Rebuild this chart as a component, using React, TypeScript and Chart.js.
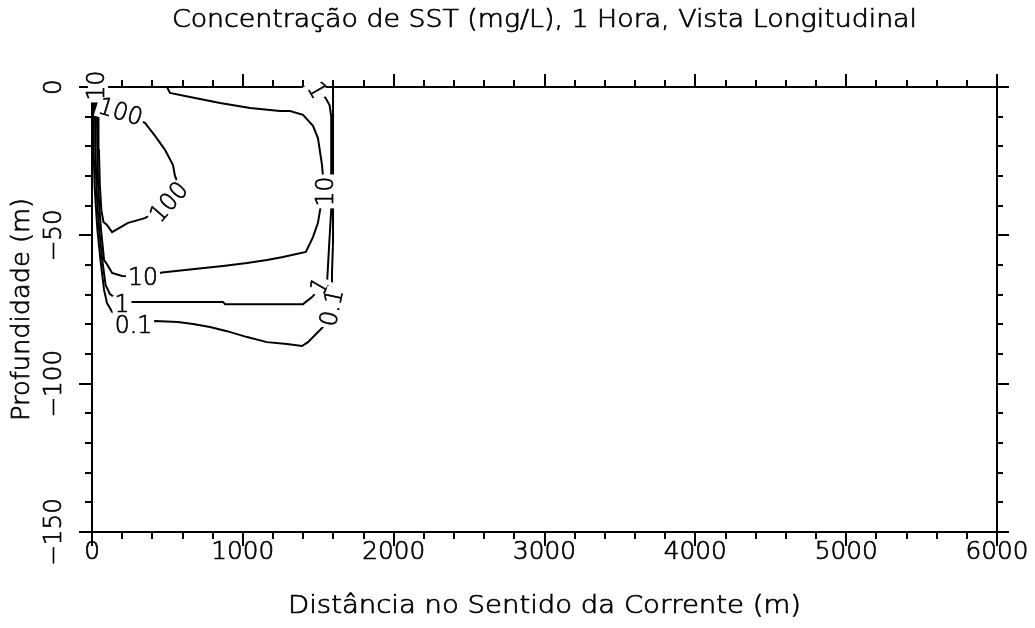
import React, { useEffect, useRef } from "react";
import { Chart, registerables } from "chart.js";

Chart.register(...registerables);

// ---------- axes ----------
const xMin = 0;
const xMax = 6000;
const yMin = -150;
const yMax = 0;
const xMajorTicks = [0, 1000, 2000, 3000, 4000, 5000, 6000];
const xTickLabels = ["0", "1000", "2000", "3000", "4000", "5000", "6000"];
const xMinorStep = 200;
const yMajorTicks = [0, -50, -100, -150];
const yTickLabels = ["0", "\u221250", "\u2212100", "\u2212150"];
const yMinorStep = 10;

const titleText = "Concentração de SST (mg/L), 1 Hora, Vista Longitudinal";
const xTitleText = "Distância no Sentido da Corrente (m)";
const yTitleText = "Profundidade (m)";

// ---------- contours (x in m, y = depth in m) ----------
const c100X = [43, 186, 351, 418, 484, 537, 550, 564, 517, 351, 239, 133, 99, 76, 62, 52, 46, 43];
const c100Y = [-8.8, -8.8, -12.1, -16.5, -21.2, -26.3, -30.0, -31.6, -39.1, -44.2, -45.8, -48.9, -46.5, -45.5, -41.5, -33, -21.2, -8.8];

const c10X = [40, 33, 33, 36, 40, 50, 60, 80, 106, 133, 199, 338, 464, 696, 869, 1028, 1160, 1266, 1418, 1465, 1498, 1512, 1535, 1532, 1525, 1498, 1465, 1399, 1313, 1246, 1048, 849, 650, 517, 497];
const c10Y = [0, -3, -9.4, -21.2, -33, -41.5, -48.2, -58.3, -60.3, -62.7, -63.7, -64, -62.5, -61.3, -60.3, -59.3, -58.3, -57.3, -55.6, -50.6, -45.8, -41.5, -35.2, -30.7, -26.3, -17.2, -13.1, -9.4, -8.1, -8.1, -7.1, -5.4, -3.4, -2.0, 0];

const c1X = [20, 22, 24, 29, 38, 48, 68, 90, 119, 199, 265, 869, 882, 1399, 1459, 1518, 1558, 1565, 1573, 1586, 1586, 1575, 1545, 1485, 1412];
const c1Y = [0, -9.4, -21.2, -33, -41.5, -48.2, -58.3, -66.7, -69.8, -72.8, -72.5, -72.5, -73.2, -73.2, -70.8, -67.4, -66.1, -60, -52.6, -41.5, -10, -6.1, -3.4, -1.3, 0];

const c01X = [8, 10, 12, 17, 27, 36, 56, 80, 99, 133, 275, 418, 570, 670, 782, 895, 1028, 1160, 1293, 1392, 1432, 1492, 1532, 1598, 1588, 1591, 1598, 1598, 1598];
const c01Y = [0, -9.4, -21.2, -33, -41.5, -48.2, -58.3, -68.4, -72.8, -75.8, -80.5, -78.9, -79.2, -79.9, -80.9, -82.3, -84.3, -86, -86.6, -87.3, -86, -82.9, -80.9, -74.5, -68, -63, -52, -5, 0];

// ---------- contour labels ----------
const labelTexts = ["10", "100", "100", "10", "1", "0.1", "1", "0.1", "10", "1"];
const labelX = [40, 186, 517, 338, 199, 275, 1518, 1598, 1558, 1485];
const labelY = [0.5, -8.8, -39.1, -64.6, -73.8, -80.7, -67.4, -74.5, -35.2, -1.3];
const labelAngle = [-90, 17, -49, 0, 0, 0, -60, -78, -90, 60];

const contours = [
  { x: c100X, y: c100Y },
  { x: c10X, y: c10Y },
  { x: c1X, y: c1Y },
  { x: c01X, y: c01Y },
];

const FONT_FAMILY = '"DejaVu Sans", "Liberation Sans", sans-serif';
const font = (size: number) => `200 ${size}px ${FONT_FAMILY}`;

function fitText(
  ctx: CanvasRenderingContext2D,
  text: string,
  cx: number,
  cy: number,
  size: number,
  rot: number,
  sx: number,
  box = false
) {
  ctx.save();
  ctx.translate(cx, cy);
  ctx.rotate((rot * Math.PI) / 180);
  ctx.font = font(size);
  ctx.textAlign = "center";
  ctx.textBaseline = "middle";
  ctx.scale(sx, 1);
  if (box) {
    const w = ctx.measureText(text).width;
    ctx.fillStyle = "#fff";
    ctx.fillRect(-w / 2 - 2, -size * 0.42, w + 4, size * 0.84);
  }
  ctx.fillStyle = "#000";
  ctx.strokeStyle = "#000";
  ctx.lineWidth = 0.7;
  ctx.fillText(text, 0, 0);
  ctx.strokeText(text, 0, 0);
  ctx.restore();
}

function widthScale(ctx: CanvasRenderingContext2D, text: string, size: number, target: number) {
  ctx.save();
  ctx.font = font(size);
  const w = ctx.measureText(text).width;
  ctx.restore();
  return w > 0 ? target / w : 1;
}

const framePlugin = {
  id: "framePlugin",
  afterDatasetsDraw(chart: any) {
    const { ctx, chartArea: a } = chart;
    const xs = chart.scales.x;
    const ys = chart.scales.y;
    ctx.save();
    ctx.strokeStyle = "#000";
    ctx.lineWidth = 2;
    ctx.lineCap = "butt";
    const seg = (x1: number, y1: number, x2: number, y2: number) => {
      ctx.beginPath();
      ctx.moveTo(x1, y1);
      ctx.lineTo(x2, y2);
      ctx.stroke();
    };
    // frame
    ctx.strokeRect(a.left, a.top, a.right - a.left, a.bottom - a.top);
    // x ticks (bottom outward, top outward)
    for (let v = xMin; v <= xMax; v += xMinorStep) {
      const px = Math.round(xs.getPixelForValue(v));
      const major = xMajorTicks.includes(v);
      seg(px, a.bottom, px, a.bottom + (major ? 14 : 7));
      seg(px, a.top, px, a.top - (major ? 13 : 7));
    }
    // y ticks (left outward, right outward)
    for (let v = yMax; v >= yMin; v -= yMinorStep) {
      const py = Math.round(ys.getPixelForValue(v));
      const major = yMajorTicks.includes(v);
      seg(a.left, py, a.left - (major ? 13 : 7), py);
      seg(a.right, py, a.right + (major ? 12 : 6), py);
    }

    const tickSize = 24;
    const tsx = widthScale(ctx, "1000", tickSize, 63);
    xMajorTicks.forEach((v, i) => {
      fitText(ctx, xTickLabels[i], xs.getPixelForValue(v), a.bottom + 21, tickSize, 0, tsx);
    });
    yMajorTicks.forEach((v, i) => {
      fitText(ctx, yTickLabels[i], a.left - 37, ys.getPixelForValue(v), tickSize, -90, tsx);
    });

    const cx = (a.left + a.right) / 2;
    const cy = (a.top + a.bottom) / 2;
    fitText(ctx, titleText, cx, 21, 24, 0, widthScale(ctx, titleText, 24, 745));
    fitText(ctx, xTitleText, cx, 607, 24, 0, widthScale(ctx, xTitleText, 24, 513));
    fitText(ctx, yTitleText, 23, cy, 24, -90, widthScale(ctx, yTitleText, 24, 223));

    // contour labels (white box erases what lies beneath)
    labelTexts.forEach((t, i) => {
      fitText(
        ctx,
        t,
        xs.getPixelForValue(labelX[i]),
        ys.getPixelForValue(labelY[i]),
        tickSize,
        labelAngle[i],
        tsx * 0.95,
        true
      );
    });
    ctx.restore();
  },
};

export default function App() {
  const ref = useRef<HTMLCanvasElement | null>(null);
  useEffect(() => {
    if (!ref.current) return;
    const chart = new Chart(ref.current, {
      type: "scatter",
      data: {
        datasets: contours.map((c) => ({
          data: c.x.map((xx, i) => ({ x: xx, y: c.y[i] })),
          showLine: true,
          borderColor: "#000",
          borderWidth: 2,
          pointRadius: 0,
          pointHoverRadius: 0,
          fill: false,
          tension: 0,
        })),
      },
      options: {
        responsive: false,
        animation: false,
        devicePixelRatio: 1,
        events: [],
        layout: { padding: { left: 92, right: 38, top: 87, bottom: 96 } },
        scales: {
          x: { type: "linear", min: xMin, max: xMax, display: false },
          y: { type: "linear", min: yMin, max: yMax, display: false },
        },
        plugins: {
          legend: { display: false },
          tooltip: { enabled: false },
          title: { display: false },
        },
      },
      plugins: [framePlugin],
    } as any);
    return () => chart.destroy();
  }, []);
  return (
    <div style={{ position: "fixed", left: 0, top: 0, width: 1035, height: 628, background: "#fff" }}>
      <canvas ref={ref} width={1035} height={628} style={{ display: "block" }} />
    </div>
  );
}
